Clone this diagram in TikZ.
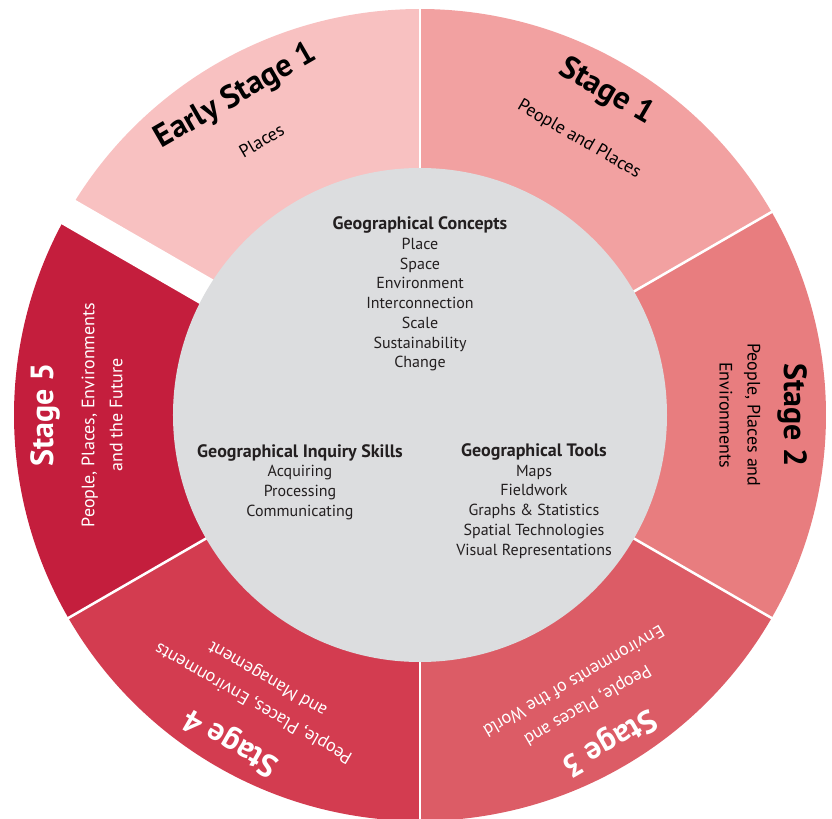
\documentclass[tikz,border=0pt]{standalone}
\usepackage{fontspec}
\setmainfont{PT Sans}
\usetikzlibrary{positioning}
\definecolor{esone}{HTML}{F8C1C1}
\definecolor{stone}{HTML}{F2A1A1}
\definecolor{sttwo}{HTML}{E87D7F}
\definecolor{stthree}{HTML}{DC5C66}
\definecolor{stfour}{HTML}{D33C50}
\definecolor{stfive}{HTML}{C41E3D}
\definecolor{disc}{HTML}{DCDDDF}
\definecolor{ink}{HTML}{231F20}
\newcommand{\heading}[1]{{\fontsize{13.5}{14.8}\selectfont\bfseries #1}}

\begin{document}
\begin{tikzpicture}[x=0.75pt,y=0.75pt]
	\tikzstyle{stagename}=[font=\fontsize{24}{28}\selectfont\bfseries, inner sep=0pt]
	\tikzstyle{stagetext}=[font=\fontsize{13.5}{21}\selectfont, align=center, inner sep=0pt]
	\tikzstyle{centretext}=[font=\fontsize{12}{14.8}\selectfont, align=center, text=ink]
	\useasboundingbox (-420,-403) rectangle (412,415);
		\fill[esone] (0,0) -- (90:406) arc (90:150:406) -- cycle;
		\fill[stone] (0,0) -- (30:406) arc (30:90:406) -- cycle;
		\fill[sttwo] (0,0) -- (-30:406) arc (-30:30:406) -- cycle;
		\fill[stthree] (0,0) -- (-90:406) arc (-90:-30:406) -- cycle;
		\fill[stfour] (0,0) -- (-150:406) arc (-150:-90:406) -- cycle;
		\fill[stfive] (0,0) -- (150:406) arc (150:210:406) -- cycle;
		\foreach \a in {90,30,-30,-90,-150}
			\draw[white, line width=1.9pt] (\a:240) -- (\a:410);
		\draw[white, line width=21pt] (150:240) -- (150:412);
		\fill[disc] (0,0) circle (247);
		\node[stagename, rotate=30] (es1) at (120:368) {Early Stage 1};
		\node[stagetext, rotate=30] (es1t) at (120:317) {Places};
		\node[stagename, rotate=-30] (s1) at (60:373) {Stage 1};
		\node[stagetext, rotate=-30] (s1t) at (60:318) {People and Places};
		\node[stagename, rotate=-90] (s2) at (0:373) {Stage 2};
		\node[stagetext, rotate=-90] (s2t) at (0:320) {People, Places and\\Environments};
		\node[stagename, rotate=-150, white] (s3) at (-60:377) {Stage 3};
		\node[stagetext, rotate=-150, white] (s3t) at (-60:322) {People, Places and\\Environments of the World};
		\node[stagename, rotate=150, white] (s4) at (-120:377) {Stage 4};
		\node[stagetext, rotate=150, white] (s4t) at (-120:318) {People, Places, Environments\\and Management};
		\node[stagename, rotate=90, white] (s5) at (180:375) {Stage 5};
		\node[stagetext, rotate=90, white] (s5t) at (180:318) {People, Places, Environments\\and the Future};
		\node[centretext] (concepts) at (0,121) {\heading{Geographical Concepts}\\Place\\Space\\Environment\\Interconnection\\Scale\\Sustainability\\Change};
		\node[centretext] (skills) at (-120,-67) {\heading{Geographical Inquiry Skills}\\Acquiring\\Processing\\Communicating};
		\node[centretext] (tools) at (114,-86) {\heading{Geographical Tools}\\Maps\\Fieldwork\\Graphs \& Statistics\\Spatial Technologies\\Visual Representations};
\end{tikzpicture}
\end{document}
